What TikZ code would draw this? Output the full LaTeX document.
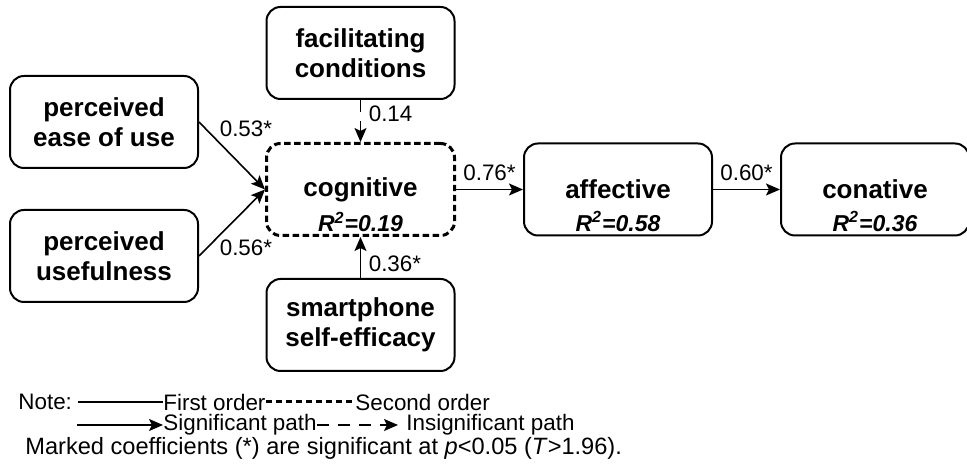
\documentclass[tikz,border=0pt]{standalone}
\usepackage{fontspec}
\setmainfont{Liberation Sans}
\usepackage{tikz}
\usetikzlibrary{positioning,arrows.meta}

\newcommand{\cnstrfont}{\fontsize{13}{15}\selectfont\bfseries}
\newcommand{\rsqfont}{\fontsize{11.5}{13}\selectfont\bfseries\itshape}
\newcommand{\coeffont}{\fontsize{11.2}{13}\selectfont}
\newcommand{\markfont}{\fontsize{11.8}{13}\selectfont}

\begin{document}
\begin{tikzpicture}[
>={Stealth[length=7pt,width=6pt,inset=1.5pt]},
construct/.style={
draw,
line width=1pt,
rounded corners=7pt,
minimum width=94pt,
minimum height=46pt,
align=center,
font=\cnstrfont
},
second order/.style={
construct,
line width=1.5pt,
dash pattern=on 3.2pt off 1.8pt
},
rsq/.style={anchor=center,yshift=7.5pt,inner sep=0pt,font=\rsqfont},
sigpath/.style={->,line width=0.8pt},
insigpath/.style={sigpath,dash pattern=on 6pt off 4.5pt},
coef/.style={inner sep=1pt,font=\coeffont},
legend/.style={inner sep=0pt,font=\coeffont}
]

\useasboundingbox (0,0) rectangle (483.5pt,234.5pt);

% constructs
\node[second order,label={[rsq]south:R\textsuperscript{2}=0.19}] (cog) at (180.25pt,139.75pt) {cognitive};
\node[construct,above=21pt of cog] (fac) {facilitating\\conditions};
\node[construct,below=20.5pt of cog] (self) {smartphone\\self-efficacy};
\node[construct,left=33pt of cog,yshift=33.75pt] (peou) {perceived\\ease of use};
\node[construct,left=33pt of cog,yshift=-33.25pt] (pu) {perceived\\usefulness};
\node[construct,right=33.5pt of cog,label={[rsq]south:R\textsuperscript{2}=0.58}] (aff) {affective};
\node[construct,right=33.5pt of aff,label={[rsq]south:R\textsuperscript{2}=0.36}] (con) {conative};

% paths
\draw[sigpath] (peou.east) -- node[coef,pos=0.1,anchor=west,xshift=5.7pt]{0.53*} (cog.west);
\draw[sigpath] (pu.east) -- node[coef,pos=0.1,anchor=west,xshift=5.7pt,yshift=0.7pt]{0.56*} (cog.west);
\draw[insigpath] (fac.south) -- node[coef,pos=0.33,anchor=west,xshift=2.75pt]{0.14} (cog.north);
\draw[sigpath] (self.north) -- node[coef,pos=0.34,anchor=west,xshift=2.75pt]{0.36*} (cog.south);
\draw[sigpath] (cog.east) -- node[coef,above=3pt]{0.76*} (aff.west);
\draw[sigpath] (aff.east) -- node[coef,above=3pt]{0.60*} (con.west);

% note
\node[legend,anchor=west] (note) at (9pt,33.5pt) {Note:};
\node[legend,anchor=west] (first) at (81.5pt,33.5pt) {First order};
\node[legend,anchor=west] (second) at (177.5pt,33.5pt) {Second order};
\draw[line width=0.8pt] ([xshift=3pt]note.east) -- (first.west);
\draw[line width=1.5pt,dash pattern=on 3.2pt off 1.8pt] (first.east) -- (second.west);

\coordinate (sigstart) at (38.5pt,22pt);
\node[legend,anchor=west] (sig) at (81.5pt,22pt) {Significant path};
\node[legend,anchor=west] (insig) at (203pt,22pt) {Insignificant path};
\draw[sigpath] (sigstart) -- (sig.west);
\draw[insigpath,shorten >=4pt] (sig.east) -- (insig.west);

\node[legend,anchor=west,font=\markfont] (marked) at (12.5pt,10.5pt) {Marked coefficients (*) are significant at \textit{p}<0.05 (\textit{T}>1.96).};

\end{tikzpicture}
\end{document}
